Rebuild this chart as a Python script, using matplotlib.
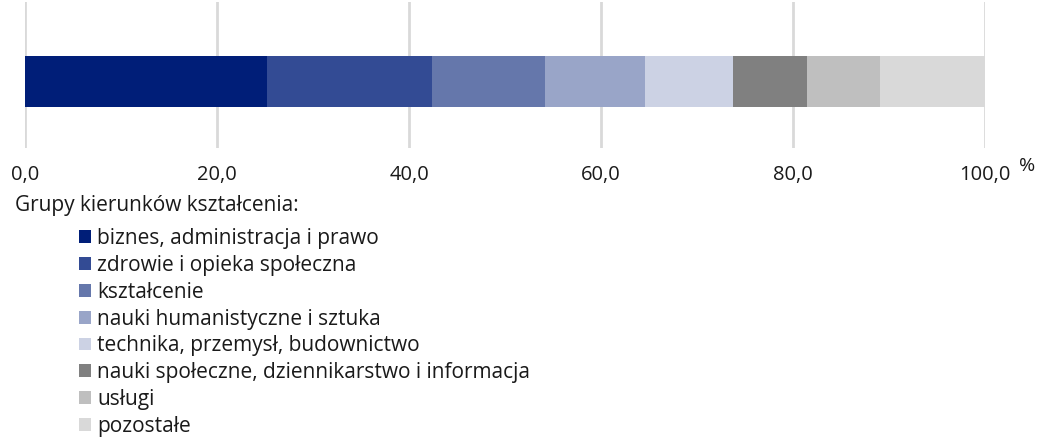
import matplotlib
matplotlib.use("Agg")
import matplotlib.pyplot as plt
from matplotlib.patches import Patch

# udzial absolwentow wg grup kierunkow ksztalcenia (%)
grupy = [
    "biznes, administracja i prawo",
    "zdrowie i opieka społeczna",
    "kształcenie",
    "nauki humanistyczne i sztuka",
    "technika, przemysł, budownictwo",
    "nauki społeczne, dziennikarstwo i informacja",
    "usługi",
    "pozostałe",
]
udzialy = [25.2, 17.2, 11.8, 10.4, 9.2, 7.7, 7.6, 10.9]
kolory = ["#001e78", "#334b94", "#6577ab", "#99a5c8",
          "#ccd2e4", "#808080", "#bfbfbf", "#d9d9d9"]
ticki = [0, 20, 40, 60, 80, 100]

plt.rcParams["font.family"] = ["Open Sans", "DejaVu Sans"]
plt.rcParams["text.color"] = "#1a1a1a"

fig = plt.figure(figsize=(10.39, 4.42), dpi=100)
ax = fig.add_axes([25 / 1039, 1 - 148 / 442, 960 / 1039, 146 / 442])

lewo = 0
for w, k in zip(udzialy, kolory):
    ax.barh(0.456, w, left=lewo, height=0.345, color=k, zorder=3)
    lewo += w

ax.set_xlim(0, 100)
ax.set_ylim(0, 1)
ax.set_yticks([])
ax.set_xticks(ticki)
ax.set_xticklabels([f"{t:.1f}".replace(".", ",") for t in ticki], fontsize=14.5)
ax.tick_params(axis="x", length=0, pad=12, colors="#1a1a1a")
ax.grid(axis="x", color="#d9d9d9", linewidth=2, zorder=0)
for s in ax.spines.values():
    s.set_visible(False)

fig.text(1027 / 1039, 1 - 166 / 442, "%", fontsize=14, ha="center", va="center")
fig.text(15 / 1039, 1 - 206 / 442, "Grupy kierunków kształcenia:", fontsize=15,
         ha="left", va="center")

uchwyty = [Patch(facecolor=k, edgecolor="none") for k in kolory]
fig.legend(uchwyty, grupy, loc="upper left", bbox_to_anchor=(79 / 1039, 1 - 228 / 442),
           frameon=False, fontsize=15, handlelength=0.58, handleheight=0.58,
           handletextpad=0.28, labelspacing=0.28, borderaxespad=0, borderpad=0)

fig.savefig("out.png", dpi=100)
